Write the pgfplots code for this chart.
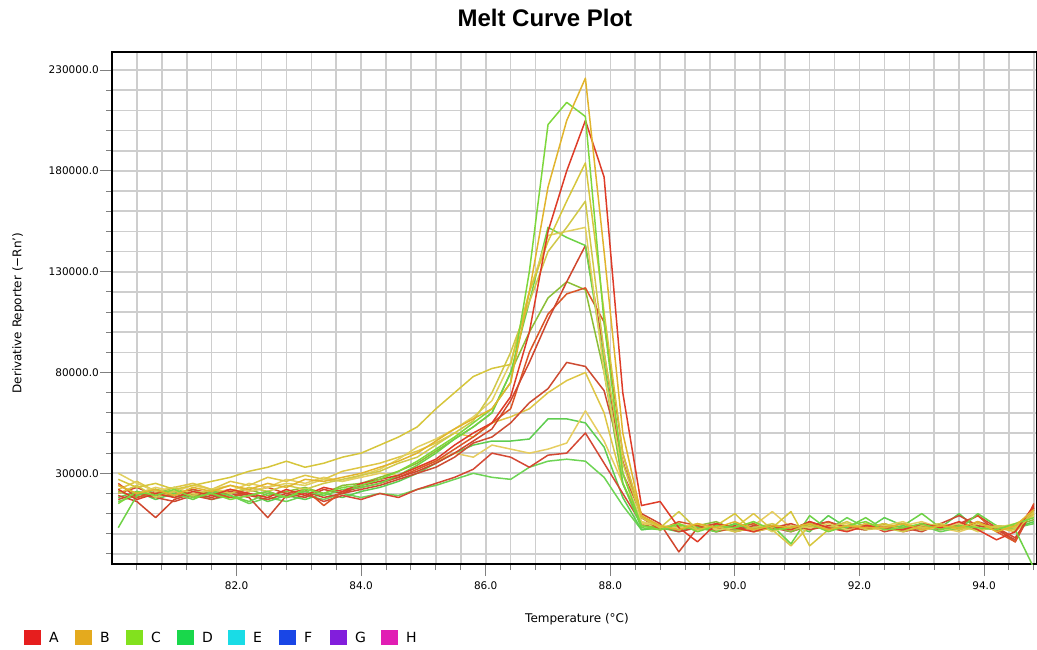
\documentclass[border=0pt]{standalone}
\usepackage{pgfplots}
\usepackage{pgfplotstable}
\pgfplotsset{compat=1.18}
\usepackage{fontspec}
\setmainfont{DejaVu Sans}
\newfontfamily\titlefont{Liberation Sans}

\definecolor{cA}{RGB}{225,180,45}
\definecolor{cB}{RGB}{125,215,60}
\definecolor{cC}{RGB}{222,60,40}
\definecolor{cD}{RGB}{214,198,60}
\definecolor{cE}{RGB}{208,200,72}
\definecolor{cF}{RGB}{225,208,95}
\definecolor{cG}{RGB}{110,210,70}
\definecolor{cH}{RGB}{208,70,45}
\definecolor{cI}{RGB}{140,190,55}
\definecolor{cJ}{RGB}{218,85,40}
\definecolor{cK}{RGB}{205,75,50}
\definecolor{cL}{RGB}{222,198,70}
\definecolor{cM}{RGB}{230,205,95}
\definecolor{cN}{RGB}{95,205,80}
\definecolor{cO}{RGB}{212,72,52}
\definecolor{cP}{RGB}{110,212,85}
\definecolor{legA}{RGB}{230,30,30}
\definecolor{legB}{RGB}{228,170,30}
\definecolor{legC}{RGB}{130,225,30}
\definecolor{legD}{RGB}{25,215,75}
\definecolor{legE}{RGB}{25,220,230}
\definecolor{legF}{RGB}{25,70,230}
\definecolor{legG}{RGB}{130,30,220}
\definecolor{legH}{RGB}{225,30,180}
\definecolor{gridgray}{RGB}{206,206,206}

% values in thousands
\pgfplotstableread{
T c1 c2 c3 c4 c5 c6 c7 c8 c9 c10 c11 c12 c13 c14 c15 c16
80.1 24 15 22 27 20 30 3 19 21 25 17 22 24 18 20 16
80.4 20 21 17 23 24 25 19 16 18 18 20 26 20 21 23 19
80.7 22 19 20 25 18 21 22 8 20 21 18 21 23 17 19 22
81.0 19 22 18 22 21 23 20 17 23 19 16 23 21 20 21 18
81.3 23 18 21 24 19 20 17 20 19 22 19 25 24 22 18 20
81.6 21 20 19 26 22 22 21 18 21 20 17 22 22 19 20 17
81.9 24 17 22 28 20 24 19 21 20 18 20 26 21 18 22 19
82.2 22 19 20 31 23 21 16 19 22 21 18 24 25 20 19 15
82.5 25 21 18 33 21 23 20 17 19 23 8 28 23 16 21 18
82.8 23 18 22 36 24 25 18 20 21 20 19 26 27 19 18 16
83.1 27 22 19 33 22 24 21 18 23 22 21 29 25 17 20 19
83.4 26 20 23 35 25 27 19 22 20 14 18 27 28 20 16 17
83.7 28 23 21 38 27 26 22 20 24 21 20 31 26 18 19 20
84.0 30 24 25 40 29 29 23 24 25 23 22 33 28 21 17 18
84.3 33 27 27 44 31 32 25 26 28 25 24 35 30 23 20 20
84.6 36 31 29 48 35 37 29 28 31 28 27 38 29 26 18 19
84.9 40 36 33 53 38 43 34 31 35 32 30 41 33 30 22 22
85.2 46 42 37 62 44 47 40 35 41 36 33 45 36 35 25 24
85.5 52 48 44 70 50 52 47 40 47 42 38 50 40 40 28 27
85.8 57 55 50 78 56 58 53 46 53 48 45 48 38 44 32 30
86.1 62 62 55 82 70 66 60 52 60 55 48 55 44 46 40 28
86.4 75 75 68 84 90 85 80 66 80 62 55 58 42 46 38 27
86.7 120 130 100 120 115 120 115 85 100 90 65 62 40 47 33 33
87.0 172 203 150 145 140 148 152 106 117 109 72 70 42 57 39 36
87.3 205 214 180 165 152 150 147 125 125 119 85 76 45 57 40 37
87.6 226 207 205 184 165 152 143 143 121 122 83 80 61 55 50 36
87.9 140 105 177 110 90 80 85 90 80 105 71 60 46 43 35 28
88.2 50 30 70 40 35 30 25 30 25 40 36 25 25 18 20 14
88.5 9 4 14 9 8 6 3 10 4 8 8 6 5 2 5 2
88.8 4 2 16 3 3 4 2 5 3 2 4 3 4 3 2 3
89.1 2 5 3 5 11 3 4 -9 2 6 1 4 2 1 4 2
89.4 5 1 -4 2 2 5 3 3 4 4 3 2 5 4 3 4
89.7 3 4 5 4 4 2 1 2 6 1 5 5 3 2 5 1
90.0 6 3 3 10 1 3 5 4 2 3 2 3 1 5 1 3
90.3 2 6 1 1 3 6 2 1 3 5 4 10 4 3 3 5
90.6 4 2 4 3 5 1 4 3 4 2 3 2 11 2 4 2
90.9 3 3 2 11 2 4 -5 5 1 4 1 -6 3 4 2 3
91.2 5 5 6 -6 4 3 9 2 5 3 4 4 2 1 6 4
91.5 2 1 3 2 3 5 2 4 3 6 6 3 4 9 3 2
91.8 4 4 1 4 6 2 3 3 2 2 3 2 5 3 2 8
92.1 3 6 4 3 2 3 8 2 4 4 2 5 3 2 5 3
92.4 3 2 3 5 3 4 2 5 3 3 4 4 2 8 1 5
92.7 5 3 2 2 1 6 4 1 5 2 3 2 4 4 3 2
93.0 2 5 5 3 4 2 10 3 2 5 1 3 6 2 4 4
93.3 4 2 3 4 5 3 3 4 3 3 5 5 3 3 2 1
93.6 3 4 6 2 3 5 2 2 4 4 9 2 1 10 5 3
93.9 6 3 2 5 2 1 10 6 2 9 4 4 4 2 9 4
94.2 1 2 -3 3 4 4 4 3 3 1 2 3 3 4 3 2
94.5 4 5 1 2 3 3 2 -2 4 -4 -3 1 5 3 -4 3
94.8 12 8 14 10 11 9 -17 12 7 15 13 10 9 6 13 5
}\meltdata

\begin{document}
\begin{tikzpicture}[x=1pt,y=1pt]
\useasboundingbox (0,0) rectangle (1037,-650);
\begin{axis}[
  at={(112pt,-564pt)}, anchor=south west,
  scale only axis, width=925pt, height=512pt,
  xmin=80, xmax=94.85, ymin=-15, ymax=239,
  xtick={82,84,86,88,90,92,94},
  xticklabels={82.0,84.0,86.0,88.0,90.0,92.0,94.0},
  minor xtick={80.4,80.8,81.2,81.6,82.4,82.8,83.2,83.6,84.4,84.8,85.2,85.6,86.4,86.8,87.2,87.6,88.4,88.8,89.2,89.6,90.4,90.8,91.2,91.6,92.4,92.8,93.2,93.6,94.4,94.8},
  ytick={30,80,130,180,230},
  yticklabels={30000.0,80000.0,130000.0,180000.0,230000.0},
  minor ytick={-10,0,10,20,40,50,60,70,90,100,110,120,140,150,160,170,190,200,210,220},
  grid=both,
  major grid style={draw=gridgray, line width=1.6pt},
  minor grid style={draw=gridgray, line width=1.6pt},
  tick align=outside, tick pos=left,
  major tick length=12pt, minor tick length=6pt,
  tick style={draw=gray, line width=1pt},
  axis line style={black, line width=1.3pt},
  ticklabel style={font=\fontsize{10.5}{12}\selectfont, inner sep=0pt},
  yticklabel style={anchor=east, xshift=-1pt},
  xticklabel style={anchor=north, yshift=-6pt},
  title={Melt Curve Plot},
  title style={font=\titlefont\bfseries\fontsize{24}{26}\selectfont, at={(axis description cs:0.468,1)}, anchor=base, yshift=20pt, inner sep=0pt},
  xlabel={Temperature (°C)},
  xlabel style={font=\fontsize{12}{14}\selectfont, at={(axis description cs:0.5027,-0.107)}, anchor=center, inner sep=0pt},
  ylabel={Derivative Reporter (−Rn')},
  ylabel style={font=\fontsize{12}{14}\selectfont, at={(axis description cs:-0.1016,0.49)}, anchor=center, inner sep=0pt},
  legend columns=8,
  legend style={at={(axis description cs:-0.0951,-0.1445)}, anchor=west, draw=none, fill=none, inner sep=0pt,
    font=\fontsize{14}{16}\selectfont, cells={anchor=west, inner sep=0pt},
    /tikz/every odd column/.append style={column sep=6pt},
    /tikz/every even column/.append style={column sep=6pt}},
  legend image code/.code={\fill[#1] (0pt,-7.5pt) rectangle (17pt,7.5pt);},
  every axis plot/.append style={line width=1.5pt, line join=round},
]
\addplot[forget plot, cP] table[x=T,y=c16]{\meltdata};
\addplot[forget plot, cN] table[x=T,y=c14]{\meltdata};
\addplot[forget plot, cO] table[x=T,y=c15]{\meltdata};
\addplot[forget plot, cM] table[x=T,y=c13]{\meltdata};
\addplot[forget plot, cL] table[x=T,y=c12]{\meltdata};
\addplot[forget plot, cK] table[x=T,y=c11]{\meltdata};
\addplot[forget plot, cI] table[x=T,y=c9]{\meltdata};
\addplot[forget plot, cJ] table[x=T,y=c10]{\meltdata};
\addplot[forget plot, cH] table[x=T,y=c8]{\meltdata};
\addplot[forget plot, cG] table[x=T,y=c7]{\meltdata};
\addplot[forget plot, cF] table[x=T,y=c6]{\meltdata};
\addplot[forget plot, cE] table[x=T,y=c5]{\meltdata};
\addplot[forget plot, cD] table[x=T,y=c4]{\meltdata};
\addplot[forget plot, cC] table[x=T,y=c3]{\meltdata};
\addplot[forget plot, cB] table[x=T,y=c2]{\meltdata};
\addplot[forget plot, cA] table[x=T,y=c1]{\meltdata};
\addlegendimage{fill=legA, draw=none}\addlegendentry{\makebox[18pt][l]{A}}
\addlegendimage{fill=legB, draw=none}\addlegendentry{\makebox[18pt][l]{B}}
\addlegendimage{fill=legC, draw=none}\addlegendentry{\makebox[18pt][l]{C}}
\addlegendimage{fill=legD, draw=none}\addlegendentry{\makebox[18pt][l]{D}}
\addlegendimage{fill=legE, draw=none}\addlegendentry{\makebox[18pt][l]{E}}
\addlegendimage{fill=legF, draw=none}\addlegendentry{\makebox[18pt][l]{F}}
\addlegendimage{fill=legG, draw=none}\addlegendentry{\makebox[18pt][l]{G}}
\addlegendimage{fill=legH, draw=none}\addlegendentry{\makebox[18pt][l]{H}}
\end{axis}
\end{tikzpicture}
\end{document}
